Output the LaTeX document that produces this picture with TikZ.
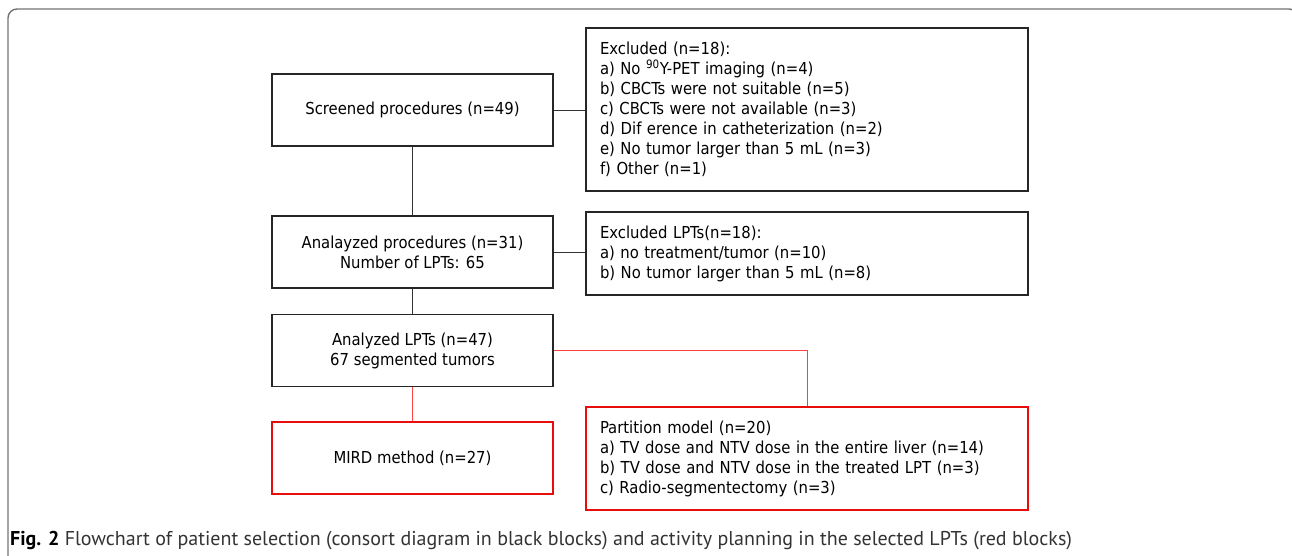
\documentclass[tikz,border=0pt]{standalone}
\usepackage{fontspec}
\setmainfont{DejaVu Sans Condensed}
\newfontfamily\capfont{PT Sans}
\usetikzlibrary{calc}

\begin{document}
\begin{tikzpicture}[x=1pt, y=-1pt,
    blk/.style={draw=black!85, line width=1.6pt, minimum width=281pt,
      minimum height=72pt, align=center, font=\fontsize{16.5}{20}\selectfont},
    redblk/.style={blk, draw=red!90!black!95},
    exbox/.style={draw=black!85, line width=1.6pt, text width=414pt,
      inner xsep=14pt, align=left, font=\fontsize{16.5}{20}\selectfont},
    redexbox/.style={exbox, draw=red!90!black!95},
    link/.style={black!80, line width=0.8pt},
    redlink/.style={red!75, line width=0.8pt}]

    % First fix the page and draw the frame
    \useasboundingbox (0,0) rectangle (1292,556);
    \draw[black!55, line width=1.4pt, rounded corners=9pt]
      (8,600) -- (8,9) -- (1298,9) -- (1298,600);

    % Next, the consort blocks
    \node[blk] (screened) at (412.5,110) {Screened procedures (n=49)};
    \node[blk] (analproc) at (412.5,252) {Analayzed procedures (n=31)\\Number of LPTs: 65};
    \node[blk] (analLPT) at (412.5,350.5) {Analyzed LPTs (n=47)\\67 segmented tumors};
    \node[exbox, minimum height=163pt] (excl) at (807,109.5)
      {Excluded (n=18):\\
       a) No \textsuperscript{90}Y-PET imaging (n=4)\\
       b) CBCTs were not suitable (n=5)\\
       c) CBCTs were not available (n=3)\\
       d) Dif erence in catheterization (n=2)\\
       e) No tumor larger than 5 mL (n=3)\\
       f) Other (n=1)};
    \node[exbox, minimum height=83pt] (exclLPT) at (807,253.5)
      {Excluded LPTs(n=18):\\
       a) no treatment/tumor (n=10)\\
       b) No tumor larger than 5 mL (n=8)};

    % Then the planning blocks
    \node[redblk] (mird) at (412.5,458) {MIRD method (n=27)};
    \node[redexbox, minimum height=103pt] (partition) at (807,458.5)
      {Partition model (n=20)\\
       a) TV dose and NTV dose in the entire liver (n=14)\\
       b) TV dose and NTV dose in the treated LPT (n=3)\\
       c) Radio-segmentectomy (n=3)};

    % Connect them
    \draw[link] (screened) -- (analproc);
    \draw[link] (analproc) -- (analLPT);
    \draw[link] (screened.east) -- (screened.east -| excl.west);
    \draw[link] (analproc.east) -- (analproc.east -| exclLPT.west);
    \draw[redlink] (analLPT) -- (mird);
    \draw[redlink] (analLPT.east) -| (partition.north);

    % Caption
    \node[anchor=base west, inner sep=0pt, text=black!80,
      font=\capfont\fontsize{20}{22}\selectfont] (caption) at (10,545)
      {\textbf{\color{black}Fig. 2} Flowchart of patient selection (consort diagram in black blocks) and activity planning in the selected LPTs (red blocks)};
  \end{tikzpicture}
\end{document}
